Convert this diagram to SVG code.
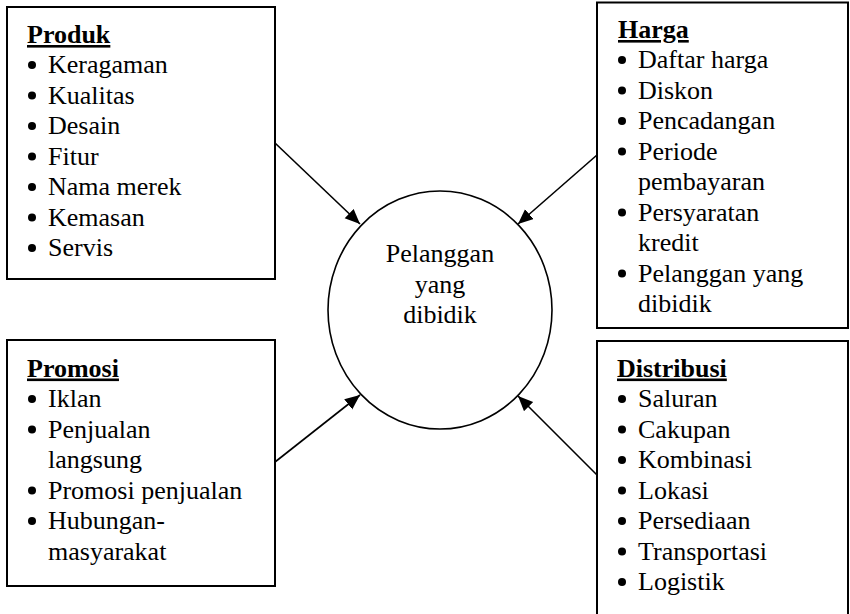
<svg xmlns="http://www.w3.org/2000/svg" width="850" height="614" viewBox="0 0 850 614">
  <style>
    .box { fill: #ffffff; stroke: #000000; stroke-width: 2; }
    .hub { fill: #ffffff; stroke: #000000; stroke-width: 1.6; }
    .link { fill: none; stroke: #000000; stroke-width: 1.6; }
    .dot { fill: #000000; }
    text { font-family: "Liberation Serif", "Times New Roman", serif; font-size: 26px; fill: #000000; }
    .head { font-weight: bold; text-decoration: underline; }
    .mid { text-anchor: middle; }
  </style>
  <defs>
    <marker id="arrow" markerUnits="userSpaceOnUse" markerWidth="16" markerHeight="14" refX="15" refY="6.5" orient="auto">
      <path d="M0,0 L15,6.5 L0,13 z" fill="#000000"/>
    </marker>
    <!-- list bullet, placed 8px above each item's baseline -->
    <circle id="bullet" class="dot" cx="0" cy="0" r="4"/>
  </defs>

  <rect width="850" height="614" fill="#ffffff"/>

  <!-- connectors: each box points at the central circle -->
  <g id="connectors">
    <line class="link" x1="275" y1="143" x2="360" y2="224" marker-end="url(#arrow)"/>
    <line class="link" x1="597" y1="155" x2="518" y2="224" marker-end="url(#arrow)"/>
    <line class="link" x1="275" y1="462" x2="360" y2="395" marker-end="url(#arrow)"/>
    <line class="link" x1="597" y1="475" x2="518" y2="396" marker-end="url(#arrow)"/>
  </g>

  <!-- central target -->
  <g id="target">
    <ellipse class="hub" cx="440" cy="310" rx="112" ry="119"/>
    <text class="mid" x="440" y="262">Pelanggan</text>
    <text class="mid" x="440" y="293">yang</text>
    <text class="mid" x="440" y="323">dibidik</text>
  </g>

  <!-- product -->
  <g id="produk">
    <rect class="box" x="7" y="7" width="268" height="272"/>
    <text class="head" x="27" y="43">Produk</text>
    <use href="#bullet" x="32" y="65"/><text x="48" y="73">Keragaman</text>
    <use href="#bullet" x="32" y="95.5"/><text x="48" y="103.5">Kualitas</text>
    <use href="#bullet" x="32" y="126"/><text x="48" y="134">Desain</text>
    <use href="#bullet" x="32" y="156.5"/><text x="48" y="164.5">Fitur</text>
    <use href="#bullet" x="32" y="187"/><text x="48" y="195">Nama merek</text>
    <use href="#bullet" x="32" y="217.5"/><text x="48" y="225.5">Kemasan</text>
    <use href="#bullet" x="32" y="248"/><text x="48" y="256">Servis</text>
  </g>

  <!-- price -->
  <g id="harga">
    <rect class="box" x="597" y="2.5" width="251" height="325.5"/>
    <text class="head" x="618" y="38">Harga</text>
    <use href="#bullet" x="622" y="60"/><text x="638" y="68">Daftar harga</text>
    <use href="#bullet" x="622" y="90.5"/><text x="638" y="98.5">Diskon</text>
    <use href="#bullet" x="622" y="121"/><text x="638" y="129">Pencadangan</text>
    <use href="#bullet" x="622" y="151.5"/><text x="638" y="159.5">Periode</text>
    <text x="638" y="190">pembayaran</text>
    <use href="#bullet" x="622" y="212.5"/><text x="638" y="220.5">Persyaratan</text>
    <text x="638" y="251">kredit</text>
    <use href="#bullet" x="622" y="273.5"/><text x="638" y="281.5">Pelanggan yang</text>
    <text x="638" y="312">dibidik</text>
  </g>

  <!-- promotion -->
  <g id="promosi">
    <rect class="box" x="7" y="340" width="268" height="246"/>
    <text class="head" x="27" y="376.5">Promosi</text>
    <use href="#bullet" x="32" y="399"/><text x="48" y="407">Iklan</text>
    <use href="#bullet" x="32" y="429.5"/><text x="48" y="437.5">Penjualan</text>
    <text x="48" y="468">langsung</text>
    <use href="#bullet" x="32" y="490.5"/><text x="48" y="498.5">Promosi penjualan</text>
    <use href="#bullet" x="32" y="521"/><text x="48" y="529">Hubungan-</text>
    <text x="48" y="559.5">masyarakat</text>
  </g>

  <!-- distribution -->
  <g id="distribusi">
    <rect class="box" x="597" y="341" width="251" height="290"/>
    <text class="head" x="617" y="376.5">Distribusi</text>
    <use href="#bullet" x="622" y="399"/><text x="638" y="407">Saluran</text>
    <use href="#bullet" x="622" y="429.5"/><text x="638" y="437.5">Cakupan</text>
    <use href="#bullet" x="622" y="460"/><text x="638" y="468">Kombinasi</text>
    <use href="#bullet" x="622" y="490.5"/><text x="638" y="498.5">Lokasi</text>
    <use href="#bullet" x="622" y="521"/><text x="638" y="529">Persediaan</text>
    <use href="#bullet" x="622" y="551.5"/><text x="638" y="559.5">Transportasi</text>
    <use href="#bullet" x="622" y="582"/><text x="638" y="590">Logistik</text>
  </g>
</svg>
